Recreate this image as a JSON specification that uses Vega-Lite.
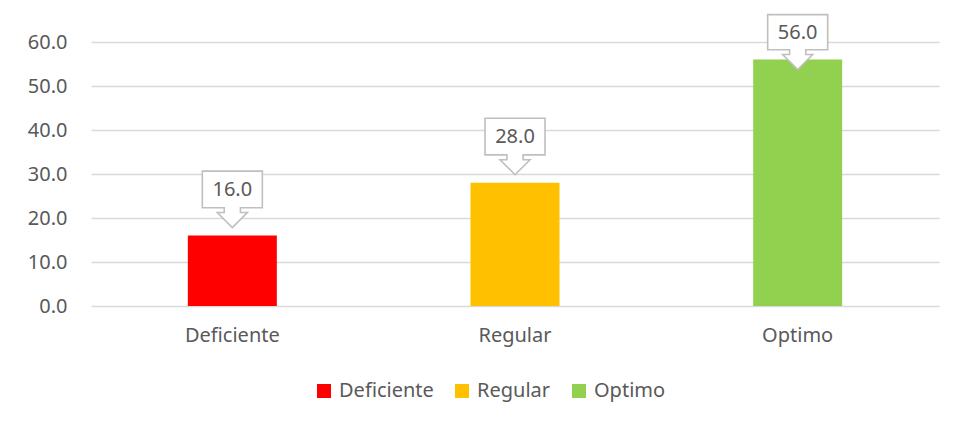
{
  "$schema": "https://vega.github.io/schema/vega-lite/v6.json",
  "autosize": {"type": "none"},
  "padding": {"left": 91, "top": 42, "right": 17, "bottom": 115},
  "width": 848,
  "height": 264,
  "background": "white",
  "data": {"values": [
    {"nivel": "Deficiente", "valor": 16},
    {"nivel": "Regular", "valor": 28},
    {"nivel": "Optimo", "valor": 56}
  ]},
  "config": {"font": "Noto Sans", "view": {"stroke": null}},
  "encoding": {
    "x": {"field": "nivel", "type": "nominal", "sort": ["Deficiente", "Regular", "Optimo"],
      "scale": {"paddingInner": 0, "paddingOuter": 0},
      "axis": {"title": null, "labelAngle": 0, "ticks": false, "domain": false, "grid": false,
        "labelFontSize": 20, "labelColor": "#595959", "labelPadding": 19, "labelFont": "Noto Sans"}},
    "y": {"field": "valor", "type": "quantitative", "scale": {"domain": [0, 60], "nice": false},
      "axis": {"title": null, "values": [0, 10, 20, 30, 40, 50, 60], "format": ".1f", "domain": false,
        "ticks": false, "labelPadding": 24, "gridColor": "#d9d9d9", "gridWidth": 1.3,
        "labelFontSize": 20, "labelColor": "#595959", "labelFont": "Noto Sans"}}
  },
  "layer": [
    {"mark": {"type": "bar", "size": 89},
     "encoding": {"color": {"field": "nivel", "type": "nominal",
       "scale": {"domain": ["Deficiente", "Regular", "Optimo"], "range": ["#ff0000", "#ffc000", "#92d050"]},
       "legend": {"orient": "none", "legendX": 223, "legendY": 339, "direction": "horizontal", "title": null,
         "symbolType": "square", "symbolSize": 196, "symbolStrokeWidth": 0, "labelFontSize": 20,
         "labelColor": "#595959", "labelOffset": 5, "columnPadding": 18, "padding": 0, "labelFont": "Noto Sans"}}}},
    {"transform": [{"filter": "datum.valor < 50"}],
     "mark": {"type": "point", "shape": "M-1,-2.15L1,-2.15L1,-0.93L0.27,-0.93L0.27,-0.77L0.5,-0.77L0,-0.27L-0.5,-0.77L-0.27,-0.77L-0.27,-0.93L-1,-0.93Z",
       "size": 3600, "filled": true, "fill": "white", "stroke": "#bfbfbf", "strokeWidth": 1.6, "opacity": 1}},
    {"transform": [{"filter": "datum.valor >= 50"}],
     "mark": {"type": "point", "shape": "M-1,-1.5L1,-1.5L1,-0.33L0.27,-0.33L0.27,-0.17L0.5,-0.17L0,0.33L-0.5,-0.17L-0.27,-0.17L-0.27,-0.33L-1,-0.33Z",
       "size": 3600, "filled": true, "fill": "white", "stroke": "#bfbfbf", "strokeWidth": 1.6, "opacity": 1}},
    {"transform": [{"filter": "datum.valor < 50"}],
     "mark": {"type": "text", "dy": -46, "fontSize": 20, "color": "#595959", "baseline": "middle", "font": "Noto Sans"},
     "encoding": {"text": {"field": "valor", "type": "quantitative", "format": ".1f"}}},
    {"transform": [{"filter": "datum.valor >= 50"}],
     "mark": {"type": "text", "dy": -27, "fontSize": 20, "color": "#595959", "baseline": "middle", "font": "Noto Sans"},
     "encoding": {"text": {"field": "valor", "type": "quantitative", "format": ".1f"}}}
  ]
}
